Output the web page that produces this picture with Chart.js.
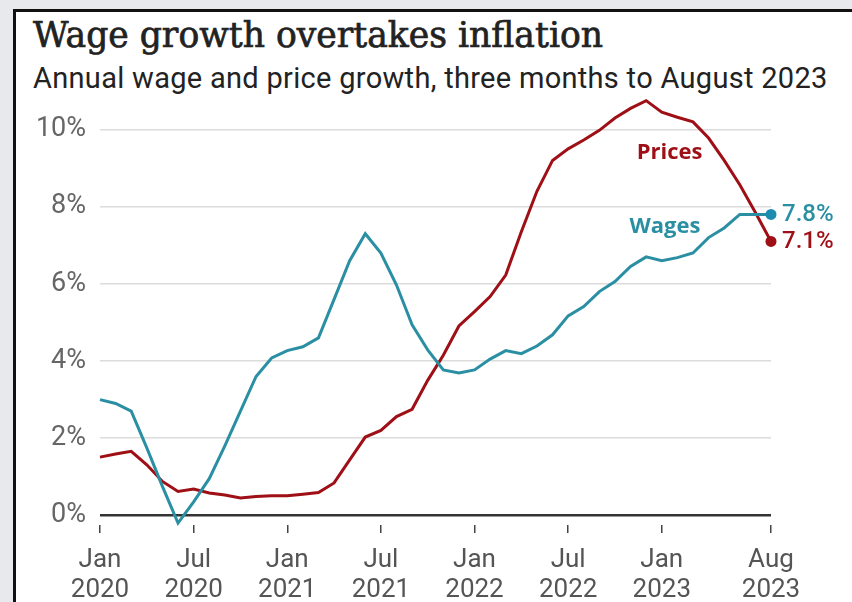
<!DOCTYPE html>
<html>
<head>
<meta charset="utf-8">
<script src="https://cdn.jsdelivr.net/npm/chart.js@4.4.0/dist/chart.umd.min.js"></script>
<style>
  html, body { margin: 0; padding: 0; }
  body { width: 852px; height: 602px; background: #e8e9ec; position: relative; overflow: hidden; }
  .card {
    position: absolute; left: 13px; top: 9px; right: -10px; bottom: -10px;
    background: #fff; border-left: 3px solid #111; border-top: 3px solid #111;
  }
  h1 {
    position: absolute; left: 33px; top: 15px; margin: 0;
    font-family: "DejaVu Serif", serif; font-weight: normal; font-size: 34.6px;
    -webkit-text-stroke: 0.7px #222;
    color: #222; white-space: nowrap; line-height: 40px;
  }
  .sub {
    position: absolute; left: 33px; top: 61px; margin: 0;
    font-family: Roboto, sans-serif; font-size: 29px; letter-spacing: 0.3px;
    color: #222; white-space: nowrap; line-height: 34px;
  }
  canvas { position: absolute; left: 0; top: 0; }
</style>
</head>
<body>
<div class="card"></div>
<h1>Wage growth overtakes inflation</h1>
<div class="sub">Annual wage and price growth, three months to August 2023</div>
<canvas id="chart" width="852" height="602"></canvas>
<script>
// monthly, Jan 2020 .. Aug 2023 (44 months)
const monthNames = ['Jan', 'Feb', 'Mar', 'Apr', 'May', 'Jun', 'Jul', 'Aug', 'Sep', 'Oct', 'Nov', 'Dec'];
const months = [];
for (let i = 0; i < 44; i++) {
    months.push(monthNames[i % 12] + ' ' + (2020 + Math.floor(i / 12)));
}

const wages = [3.0, 2.9, 2.7, 1.75, 0.75, -0.2, 0.35, 0.95, 1.8, 2.7, 3.6, 4.08,
    4.27, 4.37, 4.6, 5.6, 6.6, 7.3, 6.8, 5.97, 4.94, 4.29, 3.77, 3.69,
    3.77, 4.05, 4.27, 4.19, 4.39, 4.68, 5.17, 5.41, 5.8, 6.06, 6.45, 6.7,
    6.6, 6.68, 6.8, 7.2, 7.45, 7.8, 7.8, 7.8];

const prices = [1.51, 1.59, 1.66, 1.31, 0.88, 0.62, 0.68, 0.58, 0.53, 0.45, 0.49, 0.51,
    0.51, 0.55, 0.59, 0.84, 1.44, 2.03, 2.2, 2.56, 2.75, 3.5, 4.15, 4.91,
    5.28, 5.67, 6.23, 7.35, 8.4, 9.2, 9.5, 9.73, 9.98, 10.3, 10.55, 10.75,
    10.45, 10.32, 10.2, 9.78, 9.2, 8.57, 7.85, 7.1];

const xTickIndex = [0, 6, 12, 18, 24, 30, 36, 43];
const xTickLabels = [['Jan', '2020'], ['Jul', '2020'], ['Jan', '2021'], ['Jul', '2021'],
    ['Jan', '2022'], ['Jul', '2022'], ['Jan', '2023'], ['Aug', '2023']];
const yTicks = [0, 2, 4, 6, 8, 10];

const WAGE_COLOUR = '#2a8fa3';
const PRICE_COLOUR = '#9e0f16';

// series name labels, placed in data coordinates
const seriesLabels = [
    { text: 'Prices', index: 36.5, value: 9.4, color: PRICE_COLOUR },
    { text: 'Wages', index: 36.2, value: 7.47, color: WAGE_COLOUR }
];

const last = months.length - 1;

const labelPlugin = {
    id: 'labels',
    afterDatasetsDraw(chart) {
        const { ctx, scales } = chart;
        ctx.save();
        ctx.textBaseline = 'middle';
        ctx.font = 'bold 22px "Open Sans", sans-serif';
        ctx.textAlign = 'center';
        seriesLabels.forEach(l => {
            ctx.fillStyle = l.color;
            ctx.fillText(l.text, scales.x.getPixelForValue(l.index), scales.y.getPixelForValue(l.value));
        });
        // end values
        ctx.textAlign = 'left';
        ctx.font = '500 24px Roboto, sans-serif';
        chart.data.datasets.forEach(ds => {
            const v = ds.data[last];
            ctx.fillStyle = ds.borderColor;
            ctx.fillText(v.toFixed(1) + '%', scales.x.getPixelForValue(last) + 11, scales.y.getPixelForValue(v) + 1);
        });
        ctx.restore();
    }
};

new Chart(document.getElementById('chart'), {
    type: 'line',
    data: {
        labels: months,
        datasets: [
            {
                label: 'Wages',
                data: wages,
                borderColor: WAGE_COLOUR,
                backgroundColor: '#1c8cb0',
                borderWidth: 3,
                pointRadius: ctx => ctx.dataIndex === last ? 5.5 : 0,
                pointBorderWidth: 0,
                tension: 0,
                clip: false
            },
            {
                label: 'Prices',
                data: prices,
                borderColor: PRICE_COLOUR,
                backgroundColor: PRICE_COLOUR,
                borderWidth: 3,
                pointRadius: ctx => ctx.dataIndex === last ? 5.5 : 0,
                pointBorderWidth: 0,
                tension: 0,
                clip: false
            }
        ]
    },
    options: {
        responsive: false,
        animation: false,
        devicePixelRatio: 1,
        layout: { padding: { top: 91, right: 81, bottom: 0, left: 0 } },
        plugins: {
            legend: { display: false },
            tooltip: { enabled: false }
        },
        scales: {
            x: {
                type: 'category',
                afterBuildTicks: s => { s.ticks = xTickIndex.map(i => ({ value: i })); },
                afterFit: s => { s.height = 77; },
                border: { display: false },
                grid: {
                    drawOnChartArea: false,
                    drawTicks: true,
                    tickLength: 8,
                    color: '#444',
                    lineWidth: 1.5
                },
                ticks: {
                    autoSkip: false,
                    maxRotation: 0,
                    padding: 12,
                    color: '#555',
                    font: { family: 'Roboto, sans-serif', size: 26, lineHeight: '30px' },
                    callback: (val, i) => xTickLabels[i]
                }
            },
            y: {
                min: -0.25,
                max: 11,
                afterBuildTicks: s => { s.ticks = yTicks.map(v => ({ value: v })); },
                afterFit: s => { s.width = 100; },
                border: { display: false },
                grid: {
                    drawTicks: false,
                    color: ctx => ctx.tick.value === 0 ? '#333' : '#dcdcdc',
                    lineWidth: ctx => ctx.tick.value === 0 ? 2.5 : 1.5
                },
                ticks: {
                    padding: 14,
                    color: '#666',
                    font: { family: 'Roboto, sans-serif', size: 27 },
                    callback: v => v + '%'
                }
            }
        }
    },
    plugins: [labelPlugin]
});
</script>
</body>
</html>
